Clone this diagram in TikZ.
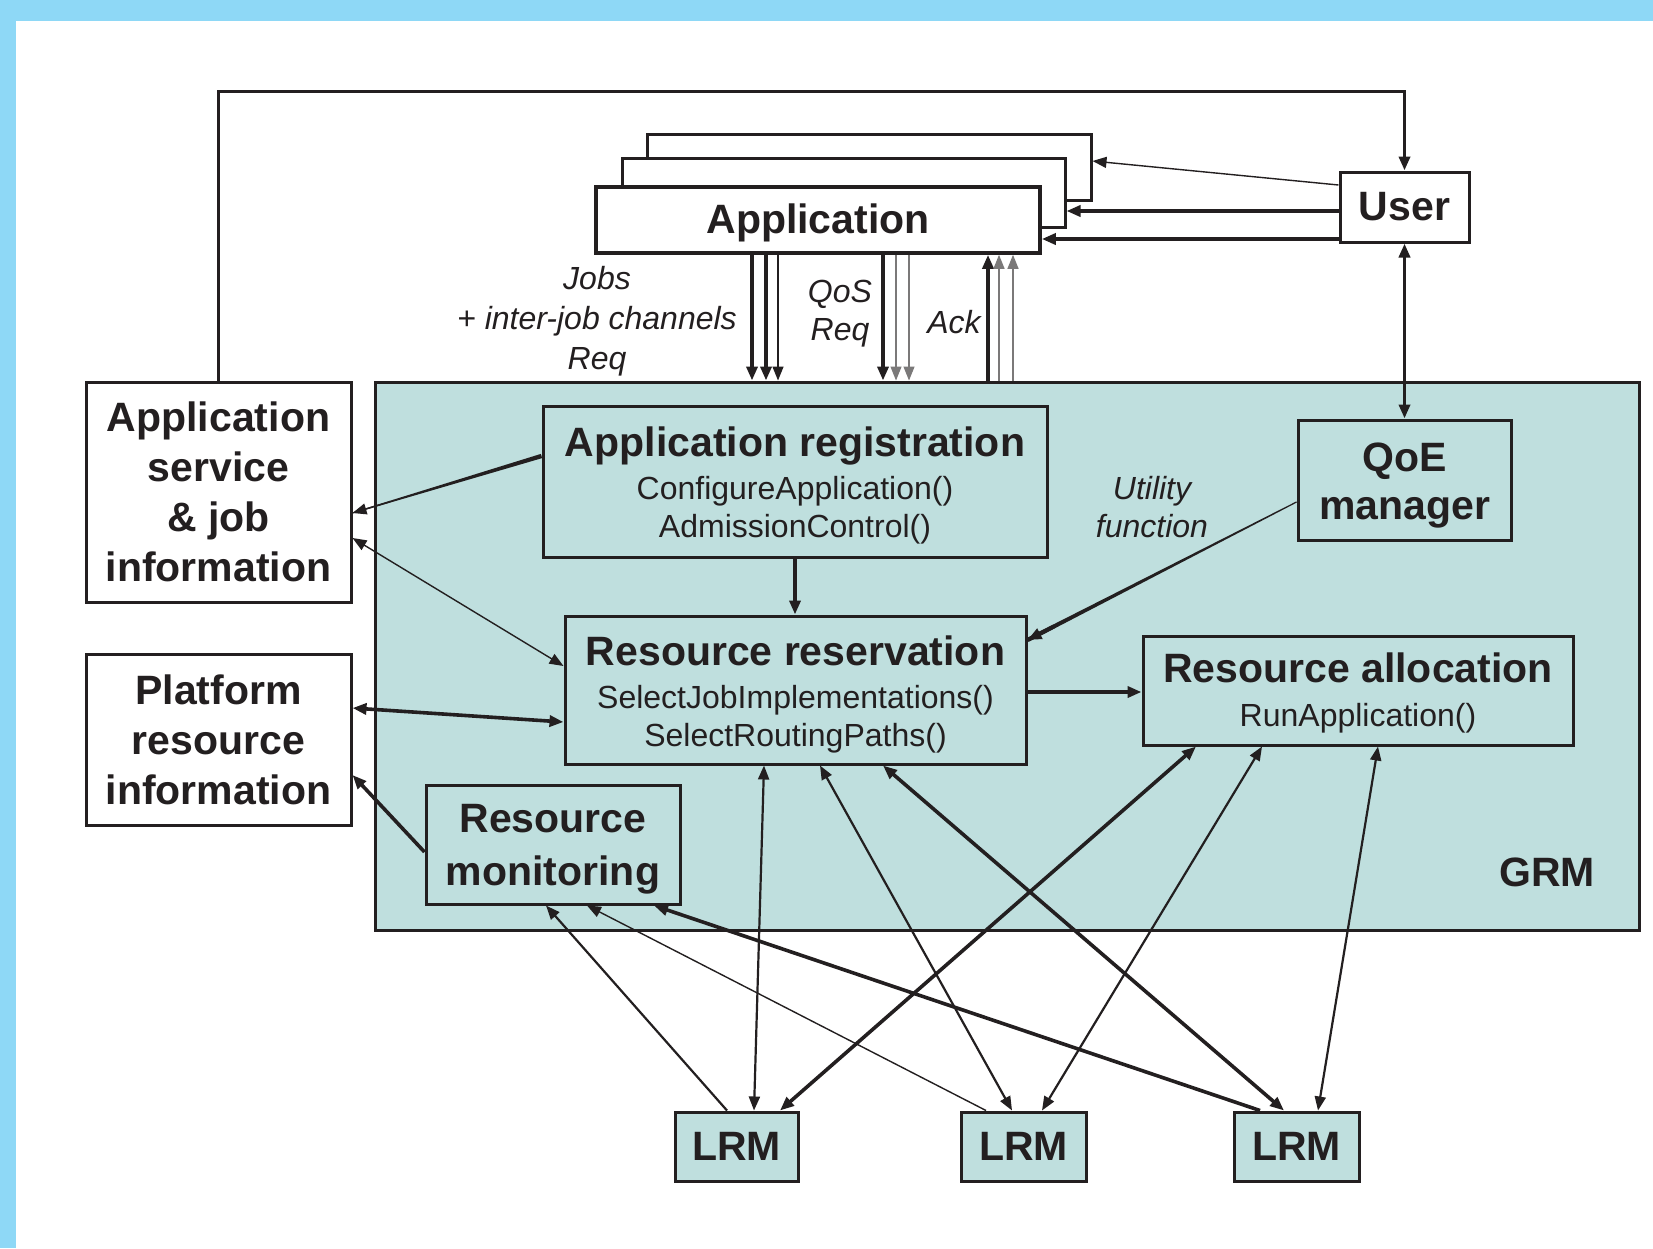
\documentclass[tikz,border=0pt]{standalone}
\usepackage{fontspec}
\setmainfont{Liberation Sans}
\usetikzlibrary{arrows.meta,calc}
\definecolor{bgblue}{RGB}{142,216,246}
\definecolor{grmfill}{RGB}{191,223,222}
\definecolor{ink}{RGB}{35,31,32}
\newcommand{\ttlfont}{\fontsize{20.5}{25}\selectfont\bfseries}
\newcommand{\mthfont}{\fontsize{16}{19}\selectfont}
\begin{document}
\begin{tikzpicture}[x=0.5pt,y=-0.5pt,
  >={Triangle[length=7pt,width=5.5pt]},
  box/.style={draw=ink, line width=1.5pt, fill=grmfill, inner sep=0pt, align=center, text=ink},
  wbox/.style={box, fill=white},
  txt/.style={inner sep=0pt, align=center, text=ink},
  thinln/.style={draw=ink, line width=0.7pt},
  greyln/.style={draw=ink!60, line width=0.6pt},
  medln/.style={draw=ink, line width=1.1pt},
  thkln/.style={draw=ink, line width=1.8pt},
  lbl/.style={font=\fontsize{16}{19}\selectfont\itshape, text=ink, align=center, inner sep=0pt},
]
\useasboundingbox (0,0) rectangle (1653,1248);
\fill[bgblue] (0,0) rectangle (1653,1248);
\fill[white] (16,21) rectangle (1653,1248);

% GRM container
\node[box, minimum width=632pt, minimum height=274pt] (grm) at (1007,656) {};
\node[font=\ttlfont, text=ink] (grmlbl) at (1547,872) {GRM};

% Application stack
\node[wbox, minimum width=222pt, minimum height=33pt] (appb) at (869,167) {};
\node[wbox, minimum width=221.5pt, minimum height=34.5pt] (appm) at (843.5,192.5) {};
\node[wbox, line width=1.8pt, minimum width=222pt, minimum height=33pt] (appf) at (818,220) {};
\node[txt, font=\ttlfont] (appftxt) at ([yshift=-1.6pt]appf.center) {Application};

% User
\node[wbox, minimum width=64.5pt, minimum height=35pt, font=\ttlfont] (user) at (1404.5,207) {User};

% Left boxes
\node[wbox, minimum width=132.5pt, minimum height=110pt, font=\ttlfont] (appsvc) at (218.5,492) {Application\\service\\\& job\\information};
\node[wbox, minimum width=132.5pt, minimum height=85.5pt, font=\ttlfont] (platf) at (218.5,739.5) {Platform\\resource\\information};

% Inner boxes
\node[box, minimum width=252pt, minimum height=75.5pt] (appreg) at (795,481.5) {};
\node[txt, font=\mthfont] (appregtxt) at ([yshift=-2.1pt]appreg.center)
  {{\ttlfont Application registration}\\[2.5pt]ConfigureApplication()\\AdmissionControl()};
\node[box, minimum width=106.5pt, minimum height=60pt] (qoe) at (1404.5,480) {};
\node[txt, font=\fontsize{20.5}{24}\selectfont\bfseries] (qoetxt) at ([yshift=-3pt]qoe.center) {QoE\\manager};
\node[box, minimum width=230.5pt, minimum height=74pt] (resres) at (795.5,690) {};
\node[txt, font=\mthfont] (resrestxt) at ([yshift=-2.3pt]resres.center)
  {{\ttlfont Resource reservation}\\[2.5pt]SelectJobImplementations()\\SelectRoutingPaths()};
\node[box, minimum width=215pt, minimum height=54.5pt] (resalloc) at (1358,690.5) {};
\node[txt, font=\mthfont] (resalloctxt) at ([yshift=-1.3pt]resalloc.center)
  {{\ttlfont Resource allocation}\\[3pt]RunApplication()};
\node[box, minimum width=127pt, minimum height=59.5pt] (resmon) at (553,844.5) {};
\node[txt, font=\fontsize{20.5}{26.5}\selectfont\bfseries] (resmontxt) at ([yshift=-2.6pt]resmon.center) {Resource\\monitoring};

% LRMs
\node[box, minimum width=61.5pt, minimum height=34.5pt, font=\ttlfont] (lrm1) at (736.5,1146.5) {LRM};
\node[box, minimum width=62.5pt, minimum height=34.5pt, font=\ttlfont] (lrm2) at (1023.5,1146.5) {LRM};
\node[box, minimum width=62.5pt, minimum height=34.5pt, font=\ttlfont] (lrm3) at (1296.5,1146.5) {LRM};

% Labels
\node[lbl, font=\fontsize{16}{20}\selectfont\itshape] (jobs) at (597,321) {Jobs\\+ inter-job channels\\Req};
\node[lbl] (qos) at (840,314) {QoS\\Req};
\node[lbl] (ack) at (954,322) {Ack};
\node[lbl] (util) at (1152,507) {Utility\\function};

% Application <-> GRM
\foreach \dx/\st in {-33/thkln, -26/thkln, -20/thinln, 32.5/thkln, 39/greyln, 45.5/greyln}
  \draw[\st,->] ([xshift=\dx pt]appf.south) coordinate (s) -- (s |- grm.north);
\foreach \dx/\st in {85/thkln, 90.5/greyln, 97.5/greyln}
  \draw[\st,<-] ([xshift=\dx pt]appf.south) coordinate (s) -- (s |- grm.north);

% User arrows
\draw[thinln,->] ([yshift=11pt]user.west) -- ([yshift=3pt]appb.east);
\draw[thkln,->] ([yshift=-2pt]user.west) coordinate (u2) -- (u2 -| appm.east);
\draw[thkln,->] ([yshift=-16pt]user.west) coordinate (u3) -- (u3 -| appf.east);
\draw[thkln,->] (appsvc.north) -- ++(0,-289) -| (user.north);
\draw[thkln,<->] (user.south) -- (user.south |- qoe.north);

% App registration -> App service (tapered)
\coordinate (a1) at ([yshift=12.75pt]appreg.west);
\coordinate (b1) at ([yshift=-10.5pt]appsvc.east);
\fill[ink] ($(a1)!1.1pt!90:(b1)$) -- ($(b1)!0.3pt!-90:(a1)$) -- ($(b1)!0.3pt!90:(a1)$) -- ($(a1)!1.1pt!-90:(b1)$) -- cycle;
\draw[thinln,->] ($(a1)!0.8!(b1)$) -- (b1);

% QoE -> Resource reservation (tapered)
\coordinate (a2) at ([yshift=-11pt]qoe.west);
\coordinate (b2) at ([yshift=25pt]resres.east);
\fill[ink] ($(a2)!0.3pt!90:(b2)$) -- ($(b2)!1.1pt!-90:(a2)$) -- ($(b2)!1.1pt!90:(a2)$) -- ($(a2)!0.3pt!-90:(b2)$) -- cycle;
\draw[line width=2pt,draw=ink,->] ($(a2)!0.9!(b2)$) -- (b2);

% Left side links
\draw[thinln,<->] ([yshift=-23pt]appsvc.east) -- ([yshift=12pt]resres.west);
\draw[thkln,<->] ([yshift=15.75pt]platf.east) -- ([yshift=-16pt]resres.west);
\draw[thkln,->] ([yshift=-3.75pt]resmon.west) -- ([yshift=-17.75pt]platf.east);

% Inner links
\draw[thkln,->] (appreg.south) -- (appreg.south |- resres.north);
\draw[thkln,->] ([yshift=-1pt]resres.east) coordinate (r1) -- (r1 -| resalloc.west);

% LRM links
\draw[medln,<->] ([xshift=8.75pt]lrm1.north) -- ([xshift=-15.75pt]resres.south);
\draw[medln,->] ([xshift=-4.75pt]lrm1.north) -- ([xshift=-3.5pt]resmon.south);
\draw[thkln,<->] ([xshift=21.75pt]lrm1.north) -- ([xshift=-81pt]resalloc.south);
\draw[medln,<->] ([xshift=-5.75pt]lrm2.north) -- ([xshift=12.25pt]resres.south);
\draw[thinln,->] ([xshift=-18.75pt]lrm2.north) -- ([xshift=17pt]resmon.south);
\draw[medln,<->] ([xshift=9.25pt]lrm2.north) -- ([xshift=-48pt]resalloc.south);
\draw[thkln,<->] ([xshift=-6.25pt]lrm3.north) -- ([xshift=43.75pt]resres.south);
\draw[thkln,->] ([xshift=-18.25pt]lrm3.north) -- ([xshift=50.5pt]resmon.south);
\draw[medln,<->] ([xshift=10.75pt]lrm3.north) -- ([xshift=10pt]resalloc.south);
\end{tikzpicture}
\end{document}
